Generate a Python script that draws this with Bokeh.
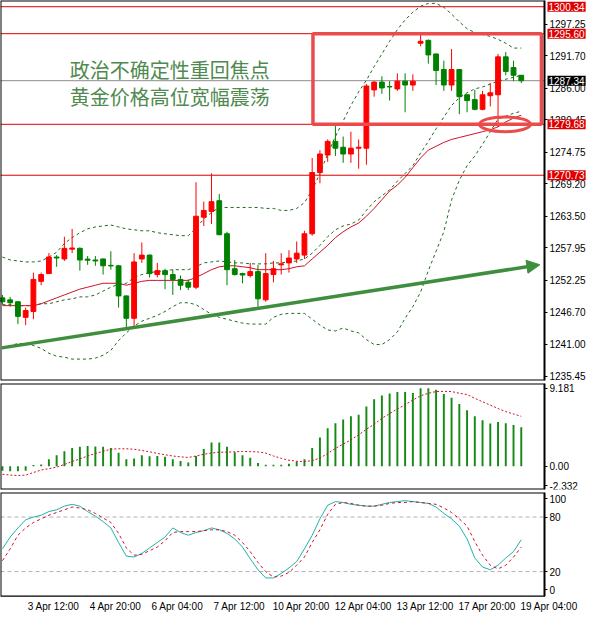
from bokeh.plotting import figure
from bokeh.models import (ColumnDataSource, Range1d, FixedTicker, Label, BoxAnnotation,
                          Arrow, NormalHead, NumeralTickFormatter, CustomJSTickFormatter, LinearAxis)
from bokeh.layouts import column
from bokeh.embed import file_html
from bokeh.resources import INLINE

# ---------------- data (XAUUSD H4, bar index 0 = 3 Apr 12:00) ----------------
bars = list(range(-3, 65))
time_ticks = [0, 8, 16, 24, 32, 40, 48, 56, 64]
time_labels = ["3 Apr 12:00", "4 Apr 20:00", "6 Apr 04:00", "7 Apr 12:00", "10 Apr 20:00",
               "12 Apr 04:00", "13 Apr 12:00", "17 Apr 20:00", "19 Apr 04:00"]

open_ = [1249.19, 1248.84, 1248.50, 1245.77, 1246.80, 1252.09, 1253.45, 1256.36, 1256.02, 1257.75,
         1257.89, 1256.00, 1255.84, 1256.02, 1254.90, 1254.82, 1249.53, 1245.60, 1256.02, 1256.70,
         1253.28, 1253.97, 1253.28, 1252.43, 1251.92, 1251.06, 1263.36, 1264.38, 1266.26, 1260.45,
         1254.31, 1253.45, 1253.11, 1253.80, 1248.84, 1253.28, 1254.99, 1255.33, 1256.02, 1256.70,
         1260.45, 1271.21, 1274.28, 1276.68, 1275.65, 1274.46, 1275.48, 1275.48, 1285.72, 1287.09,
         1286.32, 1285.90, 1287.26, 1286.58, 1293.92, 1294.43, 1292.04, 1289.31, 1286.58, 1289.31,
         1284.87, 1284.02, 1282.31, 1284.70, 1284.87, 1291.53, 1289.65, 1288.29]
high = [1249.70, 1249.36, 1248.60, 1247.48, 1253.63, 1253.63, 1257.04, 1256.70, 1259.94, 1261.31,
        1258.06, 1256.53, 1256.53, 1256.10, 1257.38, 1254.99, 1249.60, 1257.04, 1258.92, 1256.80,
        1255.33, 1254.31, 1254.14, 1253.11, 1252.43, 1269.50, 1266.09, 1271.04, 1267.46, 1260.80,
        1255.84, 1253.60, 1255.33, 1254.99, 1257.04, 1255.67, 1257.04, 1257.55, 1259.09, 1260.97,
        1273.77, 1275.14, 1277.02, 1279.58, 1277.53, 1278.38, 1277.02, 1286.75, 1287.26, 1288.11,
        1287.26, 1288.63, 1288.63, 1288.46, 1295.46, 1294.60, 1292.10, 1290.85, 1292.90, 1289.40,
        1284.95, 1285.72, 1285.55, 1286.92, 1292.04, 1292.38, 1290.85, 1288.35]
low = [1247.99, 1247.65, 1244.58, 1244.41, 1245.43, 1251.41, 1253.40, 1254.65, 1255.67, 1257.04,
       1253.97, 1254.99, 1254.82, 1253.28, 1254.14, 1247.48, 1243.72, 1243.89, 1255.33, 1252.77,
       1252.77, 1250.72, 1249.70, 1250.55, 1250.55, 1250.72, 1261.82, 1262.16, 1260.20, 1251.41,
       1253.11, 1251.75, 1252.77, 1247.48, 1248.50, 1251.92, 1253.28, 1253.63, 1255.33, 1256.02,
       1260.11, 1269.33, 1273.09, 1274.11, 1272.92, 1272.92, 1271.89, 1272.58, 1284.53, 1285.04,
       1283.85, 1285.55, 1281.80, 1285.55, 1293.41, 1290.33, 1286.58, 1285.55, 1285.55, 1281.46,
       1281.80, 1282.14, 1282.14, 1282.82, 1279.24, 1288.29, 1287.26, 1286.92]
close = [1248.50, 1248.33, 1245.94, 1246.97, 1252.43, 1253.28, 1256.36, 1256.19, 1257.89, 1257.95,
         1255.84, 1255.80, 1255.67, 1254.82, 1254.80, 1249.53, 1245.60, 1255.50, 1256.70, 1253.45,
         1253.97, 1253.28, 1252.43, 1251.41, 1251.06, 1263.53, 1264.55, 1266.09, 1260.28, 1254.14,
         1253.28, 1253.20, 1253.80, 1249.02, 1253.45, 1254.31, 1255.16, 1256.19, 1257.04, 1260.45,
         1271.21, 1274.46, 1276.68, 1275.48, 1274.46, 1275.48, 1275.65, 1286.41, 1287.09, 1286.07,
         1286.24, 1287.26, 1286.58, 1287.26, 1294.26, 1291.87, 1289.14, 1286.58, 1289.31, 1284.53,
         1283.85, 1282.31, 1284.87, 1285.21, 1291.53, 1288.97, 1288.29, 1287.34]

bb_upper = [1256.36, 1255.84, 1255.67, 1255.50, 1255.50, 1255.67, 1256.36, 1257.21, 1258.75, 1259.77,
            1260.63, 1261.31, 1261.65, 1261.82, 1261.99, 1261.65, 1261.31, 1261.14, 1260.97, 1260.97,
            1260.63, 1260.45, 1260.28, 1260.11, 1260.11, 1261.48, 1263.02, 1264.21, 1265.07, 1265.07,
            1265.07, 1265.07, 1265.07, 1265.07, 1264.90, 1264.90, 1264.55, 1264.55, 1264.90, 1265.92,
            1268.14, 1271.04, 1274.46, 1277.53, 1280.26, 1282.99, 1285.38, 1287.43, 1289.82, 1292.04,
            1294.26, 1296.31, 1298.02, 1299.38, 1300.41, 1300.92, 1300.92, 1300.24, 1299.04, 1297.68,
            1296.48, 1295.80, 1295.46, 1295.12, 1294.60, 1293.92, 1293.07, 1293.07]
bb_mid = [1247.99, 1247.99, 1247.82, 1247.82, 1247.82, 1248.16, 1248.16, 1248.50, 1248.84, 1249.02,
          1249.36, 1249.36, 1249.70, 1250.38, 1251.06, 1251.58, 1251.75, 1252.77, 1253.28, 1253.63,
          1253.80, 1253.97, 1254.14, 1254.14, 1254.14, 1254.65, 1255.33, 1255.50, 1255.67, 1255.50,
          1255.33, 1255.33, 1255.16, 1255.16, 1255.16, 1255.33, 1255.33, 1255.50, 1255.67, 1256.02,
          1257.04, 1258.41, 1259.94, 1261.14, 1261.82, 1262.16, 1262.85, 1264.55, 1266.09, 1267.11,
          1268.14, 1269.68, 1271.04, 1272.41, 1274.63, 1276.68, 1278.89, 1280.94, 1282.99, 1284.36,
          1285.21, 1285.90, 1286.24, 1286.75, 1287.26, 1287.60, 1287.94, 1288.29]
bb_lower = [1240.48, 1240.82, 1241.16, 1241.16, 1240.82, 1240.31, 1239.45, 1238.94, 1238.77, 1238.43,
            1238.43, 1238.43, 1238.60, 1239.11, 1239.97, 1241.68, 1243.04, 1244.24, 1245.09, 1245.60,
            1246.12, 1246.80, 1247.65, 1248.33, 1248.33, 1247.99, 1247.14, 1246.29, 1245.77, 1245.43,
            1245.09, 1244.75, 1244.58, 1244.58, 1244.58, 1245.77, 1246.29, 1246.46, 1246.46, 1246.46,
            1245.43, 1244.41, 1243.55, 1243.38, 1243.89, 1243.38, 1243.04, 1241.85, 1240.99, 1240.99,
            1241.85, 1243.21, 1245.60, 1247.65, 1250.21, 1253.97, 1257.38, 1260.80, 1266.43, 1269.85,
            1272.41, 1274.11, 1276.16, 1278.38, 1280.60, 1281.11, 1281.62, 1281.97]
ma_line = [1247.82, 1247.82, 1247.82, 1247.82, 1247.82, 1248.16, 1248.67, 1249.19, 1249.70, 1250.21,
           1250.72, 1251.06, 1251.41, 1251.75, 1251.75, 1251.75, 1251.41, 1251.75, 1252.09, 1252.26,
           1252.26, 1252.26, 1252.26, 1252.26, 1252.26, 1252.77, 1253.45, 1254.14, 1254.65, 1254.82,
           1254.82, 1254.65, 1254.48, 1254.14, 1254.14, 1254.14, 1254.14, 1254.31, 1254.65, 1254.82,
           1256.02, 1257.21, 1258.41, 1259.77, 1260.80, 1261.65, 1262.33, 1263.53, 1264.90, 1266.43,
           1267.97, 1268.99, 1270.36, 1272.06, 1273.77, 1275.14, 1275.82, 1276.50, 1277.02, 1277.36,
           1277.70, 1278.04, 1278.38, 1278.72, 1279.24, 1280.09, 1280.77, 1281.28]

macd_hist = [-0.55, -0.6, -0.6, -0.55, 0.15, 0.2, 0.81, 1.29, 1.76, 2.13, 2.28, 2.39, 2.31, 2.28,
             2.13, 1.58, 0.81, 0.92, 1.29, 1.18, 1.21, 1.10, 0.81, 0.62, 0.44, 1.21, 2.02, 2.79,
             2.79, 2.28, 1.65, 1.29, 0.99, 0.37, 0.18, 0.18, 0.18, 0.29, 0.55, 0.81, 2.13, 3.38,
             4.48, 5.07, 5.51, 5.88, 6.06, 7.05, 7.89, 8.34, 8.56, 8.74, 8.74, 8.63, 9.18, 9.18,
             9.00, 8.52, 8.08, 7.34, 6.61, 5.88, 5.43, 5.03, 5.21, 5.07, 4.85, 4.59]
macd_signal = [-0.95, -1.05, -1.1, -1.05, -0.75, -0.45, -0.3, -0.1, 0.2, 0.55, 0.85, 1.2, 1.5,
               1.75, 2.0, 2.05, 2.05, 2.0, 1.85, 1.7, 1.5, 1.35, 1.2, 1.1, 1.03, 1.2, 1.4, 1.55,
               1.65, 1.65, 1.7, 1.73, 1.72, 1.68, 1.55, 1.2, 0.92, 0.7, 0.58, 0.55, 0.65, 0.95,
               1.5, 2.1, 2.6, 3.1, 3.7, 4.35, 4.95, 5.65, 6.2, 6.75, 7.25, 7.8, 8.3, 8.6, 8.8,
               8.82, 8.8, 8.6, 8.45, 8.0, 7.6, 7.2, 6.8, 6.43, 6.15, 5.88]
macd_ticks = [-2.332, 0.0, 9.181]

stoch_k = [45, 58, 68, 77, 80, 82, 86, 88, 92, 94, 92, 86, 81, 75, 68, 52, 37, 36, 40, 46, 52, 58,
           68, 63, 60, 63, 65, 68, 66, 62, 56, 47, 34, 22, 13, 13, 18, 24, 31, 45, 60, 78, 93, 97,
           96, 94, 93, 92, 92, 94, 96, 97, 98, 97, 96, 95, 91, 84, 78, 70, 56, 35, 25, 22, 27, 35,
           42, 55]
stoch_d = [32, 45, 60, 68, 74, 78, 82, 85, 88, 91, 90, 88, 84, 79, 74, 62, 46, 38, 39, 43, 47, 54,
           63, 64, 64, 64, 65, 66, 66, 64, 60, 52, 42, 30, 20, 14, 15, 19, 27, 36, 52, 66, 83, 94,
           96, 95, 93, 92, 92, 93, 95, 96, 96, 97, 96, 95, 94, 90, 85, 78, 70, 53, 38, 27, 23, 27,
           36, 47]
stoch_levels = [20, 80]
stoch_ticks = [0, 20, 80, 100]

price_ticks = [1235.45, 1241.00, 1246.70, 1252.25, 1257.95, 1263.50, 1269.20, 1274.75,
               1280.45, 1286.00, 1291.70, 1297.25]
level_lines = [1300.34, 1295.60, 1279.68, 1270.73]
last_price = 1287.34

# annotations
title_lines = ["政治不确定性重回焦点", "黄金价格高位宽幅震荡"]
title_pos = [(18.6, 1289.3), (18.6, 1284.6)]
box_left, box_right = 37.1, 66.6
ellipse_center = (61.9, 1279.68)
ellipse_size = (6.6, 2.6)
trend_start = (-3.1, 1240.4)
trend_end = (66.4, 1255.0)

# ---------------- styles / geometry ----------------
FONT = "Liberation Sans"
BULL = "#ff0000"
BEAR = "#008000"
BB_COL = "#1f6b1f"
MA_COL = "#d0102a"
BOX_COL = "#ec4b4b"
ARROW_COL = "#3e8e3e"
TEXT_COL = "#4f8a4f"
LEVEL_COL = "#dd0000"
TOTAL_W = 587          # frame covers chart + price-scale strip
CHART_W = 544          # chart part (left of the price scale)
X_START = -3.25
AXIS_X = 67.0          # where the price scale sits
X_END = AXIS_X + (TOTAL_W - CHART_W) * (AXIS_X - X_START) / CHART_W
LABEL_SHIFT = 3.6      # time labels start at their tick (MT4 style)

x_range = Range1d(X_START, X_END)


def make_fig(frame_h, y0, y1, top_gap, bottom_gap, with_x=False):
    p = figure(frame_width=TOTAL_W, frame_height=frame_h, x_range=x_range,
               y_range=Range1d(y0, y1), output_backend="svg", toolbar_location=None,
               y_axis_location="right", x_axis_location="below" if with_x else None,
               min_border_left=0, min_border_right=0, min_border_top=top_gap,
               min_border_bottom=bottom_gap)
    p.grid.visible = False
    p.outline_line_color = None
    p.background_fill_color = "white"
    p.border_fill_color = "white"
    ya = p.yaxis[0]
    ya.fixed_location = AXIS_X
    ya.axis_line_color = "black"
    ya.major_tick_in = 0
    ya.major_tick_out = 3
    ya.minor_tick_line_color = None
    ya.major_label_standoff = 2
    ya.major_label_text_font = FONT
    ya.major_label_text_font_size = "10px"
    ya.major_label_text_color = "black"
    # frame border around the chart part only
    p.add_layout(BoxAnnotation(right=AXIS_X, fill_color=None, fill_alpha=0,
                               line_color="black", line_alpha=1, line_width=2))
    return p


# ---------------- main price panel ----------------
p1 = make_fig(380, 1234.67, 1301.43, 0, 2)
p1.yaxis[0].ticker = FixedTicker(ticks=price_ticks)
p1.yaxis[0].formatter = NumeralTickFormatter(format="0.00")

n_lv = len(level_lines)
p1.segment(x0=[X_START] * n_lv, y0=level_lines, x1=[AXIS_X] * n_lv, y1=level_lines,
           line_color=LEVEL_COL, line_width=1)
p1.segment(x0=[X_START], y0=[last_price], x1=[AXIS_X], y1=[last_price],
           line_color="#8c8c8c", line_width=1)

p1.line(bars, bb_upper, line_color=BB_COL, line_dash="3 3", line_width=1)
p1.line(bars, bb_mid, line_color=BB_COL, line_dash="3 3", line_width=1)
p1.line(bars, bb_lower, line_color=BB_COL, line_dash="3 3", line_width=1)
p1.line(bars, ma_line, line_color=MA_COL, line_width=1)

colors = [BULL if c > o else BEAR for o, c in zip(open_, close)]
src = ColumnDataSource(dict(
    x=bars, h=high, l=low,
    top=[max(o, c) for o, c in zip(open_, close)],
    bottom=[min(o, c) for o, c in zip(open_, close)],
    color=colors))
p1.segment(x0="x", y0="l", x1="x", y1="h", line_color="color", line_width=1, source=src)
p1.vbar(x="x", width=0.62, top="top", bottom="bottom", fill_color="color",
        line_color="color", line_width=1, source=src)

p1.add_layout(BoxAnnotation(left=box_left, right=box_right, bottom=level_lines[2], top=level_lines[1],
                            fill_color=None, fill_alpha=0, line_color=BOX_COL, line_alpha=1,
                            line_width=3.5))
p1.ellipse(x=[ellipse_center[0]], y=[ellipse_center[1]], width=ellipse_size[0],
           height=ellipse_size[1], fill_color=None, line_color=BOX_COL, line_width=3)
p1.add_layout(Arrow(end=NormalHead(size=13, fill_color=ARROW_COL, line_color=ARROW_COL),
                    x_start=trend_start[0], y_start=trend_start[1],
                    x_end=trend_end[0], y_end=trend_end[1],
                    line_color=ARROW_COL, line_width=3.5))

for txt, (tx, ty) in zip(title_lines, title_pos):
    p1.add_layout(Label(x=tx, y=ty, text=txt, text_font="Noto Sans CJK SC",
                        text_font_size="20px", text_color=TEXT_COL,
                        text_align="center", text_baseline="middle"))

for lv in level_lines + [last_price]:
    bg = "black" if lv == last_price else LEVEL_COL
    p1.add_layout(Label(x=AXIS_X, y=lv, x_offset=3, text=f"{lv:.2f}", text_color="white",
                        text_font=FONT, text_font_size="10px", text_align="left",
                        text_baseline="middle", background_fill_color=bg, padding=1))

# ---------------- MACD panel ----------------
p2 = make_fig(106, -2.75, 9.75, 1, 3)
p2.yaxis[0].ticker = FixedTicker(ticks=macd_ticks)
p2.yaxis[0].formatter = CustomJSTickFormatter(code="return tick == 0 ? '0.00' : tick.toFixed(3);")
p2.vbar(x=bars, top=macd_hist, bottom=0, width=0.25, fill_color="#158a15", line_color=None)
p2.line(bars, macd_signal, line_color=MA_COL, line_dash="2 2", line_width=1)

# ---------------- Stochastic panel ----------------
p3 = make_fig(104, -7.4, 107, 0, 0, with_x=True)
p3.yaxis[0].ticker = FixedTicker(ticks=stoch_ticks)
n_sl = len(stoch_levels)
p3.segment(x0=[X_START] * n_sl, y0=stoch_levels, x1=[AXIS_X] * n_sl, y1=stoch_levels,
           line_color="#b0b0b0", line_dash="4 3", line_width=1)
p3.line(bars, stoch_k, line_color="#20b2aa", line_width=1)
p3.line(bars, stoch_d, line_color=MA_COL, line_dash="3 3", line_width=1)

# time labels (placed so that each starts at its tick)
xa = p3.xaxis[0]
xa.ticker = FixedTicker(ticks=[t + LABEL_SHIFT for t in time_ticks])
xa.formatter = CustomJSTickFormatter(
    args=dict(pos=time_ticks, names=time_labels, shift=LABEL_SHIFT),
    code="const i = pos.indexOf(Math.round(tick - shift)); return i >= 0 ? names[i] : '';")
xa.axis_line_color = None
xa.major_tick_line_color = None
xa.major_tick_in = 0
xa.major_tick_out = 3
xa.minor_tick_line_color = None
xa.major_label_standoff = 1
xa.major_label_text_font = FONT
xa.major_label_text_font_size = "10px"
xa.major_label_text_color = "black"

# tick marks of the time scale
xt = LinearAxis(fixed_location=-7.4, ticker=FixedTicker(ticks=time_ticks),
                bounds=(X_START, AXIS_X), axis_line_color="black", major_tick_in=0,
                major_tick_out=4, minor_tick_line_color=None, major_label_text_color=None)
p3.add_layout(xt, "below")

layout = column(p1, p2, p3, spacing=0)
open("out.html", "w").write(file_html(layout, INLINE))
